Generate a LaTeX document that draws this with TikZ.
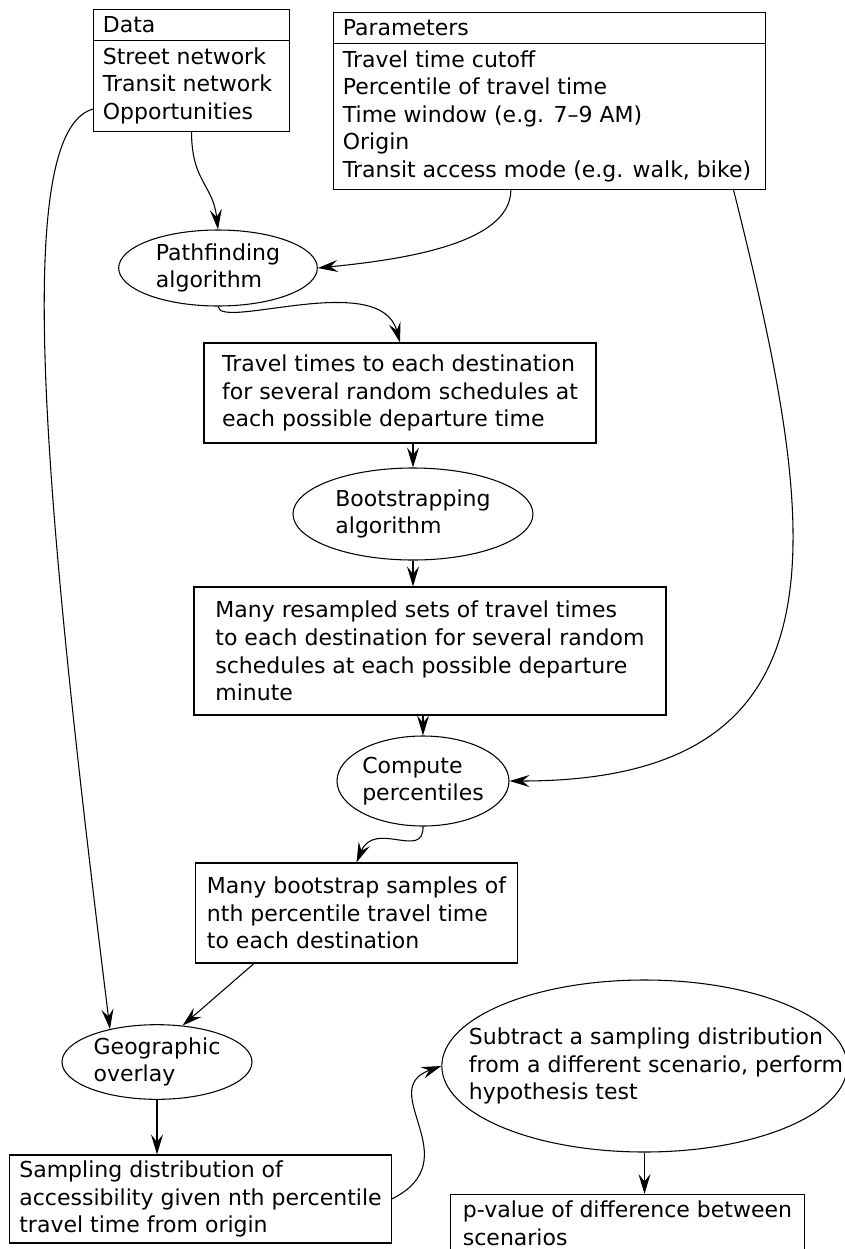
\documentclass[tikz,border=0pt]{standalone}
\usepackage{fontspec}
\setmainfont{DejaVu Sans}
\usetikzlibrary{shapes.geometric,shapes.multipart,arrows.meta}

\begin{document}
\begin{tikzpicture}[x=0.75pt,y=0.75pt,yscale=-1,xscale=1,
  line width=0.8pt,
  every node/.style={font=\fontsize{16.5}{20.7}\selectfont},
  listbox/.style={draw, rectangle split, rectangle split parts=2, rectangle split part align=left, align=left, inner xsep=7pt, inner ysep=5pt},
  textbox/.style={draw, rectangle, align=left, inner sep=4pt},
  stepoval/.style={draw, ellipse, align=left, inner sep=0pt},
  flow/.style={-{Stealth[length=15pt,width=9pt,inset=5.5pt]}}]
\useasboundingbox (0,0) rectangle (844,1249);

%Shape: Data list [id:data]
\node [listbox, minimum width=147pt, anchor=north west] (data) at (93,9) {Data \nodepart{two} Street network\\Transit network\\Opportunities};
%Shape: Parameters list [id:params]
\node [listbox, minimum width=324pt, anchor=north west] (params) at (333,12) {Parameters \nodepart{two} Travel time cutoff\\Percentile of travel time\\Time window (e.g. 7--9 AM)\\Origin\\Transit access mode (e.g. walk, bike)};

%Shape: Ellipse [id:path]
\node [stepoval, minimum width=149pt, minimum height=57pt] (path) at (218,268) {Pathfinding\\algorithm};
%Shape: Rectangle [id:travel]
\node [textbox, minimum width=294pt, minimum height=75pt] (travel) at (400,393) {Travel times to each destination\\for several random schedules at\\each possible departure time};
%Shape: Ellipse [id:boot]
\node [stepoval, minimum width=180pt, minimum height=69pt] (boot) at (413,514) {Bootstrapping\\algorithm};
%Shape: Rectangle [id:resampled]
\node [textbox, minimum width=354pt, minimum height=96pt] (resampled) at (430,651) {Many resampled sets of travel times\\to each destination for several random\\schedules at each possible departure\\minute};
%Shape: Ellipse [id:perc]
\node [stepoval, minimum width=129pt, minimum height=67.5pt] (perc) at (423,781) {Compute\\percentiles};
%Shape: Rectangle [id:bootsamp]
\node [textbox, minimum width=241pt, minimum height=75pt] (bootsamp) at (356.5,913) {Many bootstrap samples of\\nth percentile travel time\\to each destination};
%Shape: Ellipse [id:geo]
\node [stepoval, minimum width=142.5pt, minimum height=56pt] (geo) at (157,1062) {Geographic\\overlay};
%Shape: Rectangle [id:sampling]
\node [textbox, minimum width=286pt, minimum height=66pt] (sampling) at (200.5,1199) {Sampling distribution of\\accessibility given nth percentile\\travel time from origin};
%Shape: Ellipse [id:subtract]
\node [draw, ellipse, minimum width=304pt, minimum height=129pt, label={[align=left, xshift=8.6pt]center:{Subtract a sampling distribution\\from a different scenario, perform\\hypothesis test}}] (subtract) at (644.5,1066) {};
%Shape: Rectangle [id:pvalue]
\node [textbox, inner ysep=5pt, minimum width=265pt, anchor=north] (pvalue) at (627.5,1194) {p-value of difference between\\scenarios};

%Curve Lines
\draw [flow] (data.south) .. controls +(0,50) and +(-5,-45) .. (path.north);
\draw [flow] ([yshift=-17pt]data.south west) .. controls +(-83,23) and +(-65,-525) .. (geo.145);
\draw [flow] ([xshift=-29pt]params.south) .. controls +(0,55) and +(80,-8) .. (path.east);
\draw [flow] ([xshift=138pt]params.south) .. controls +(85,340) and +(350,0) .. (perc.east);
\draw [flow] (path.south) .. controls +(2,24) and +(-20,-73) .. (travel.north);
\draw [flow] (perc.south) .. controls +(1,34) and +(18,-43) .. (bootsamp.north);
\draw [flow] (sampling.east) .. controls +(79,-39) and +(-67,24) .. (subtract.west);
%Straight Lines
\draw [flow] (boot.north |- travel.south) -- (boot.north);
\draw [flow] (boot.south) -- (boot.south |- resampled.north);
\draw [flow] (perc.north |- resampled.south) -- (perc.north);
\draw [flow] ([xshift=44pt]bootsamp.south west) -- (geo.55);
\draw [flow] (geo.south) -- (geo.south |- sampling.north);
\draw [flow] (subtract.south) -- (subtract.south |- pvalue.north);

\end{tikzpicture}
\end{document}
